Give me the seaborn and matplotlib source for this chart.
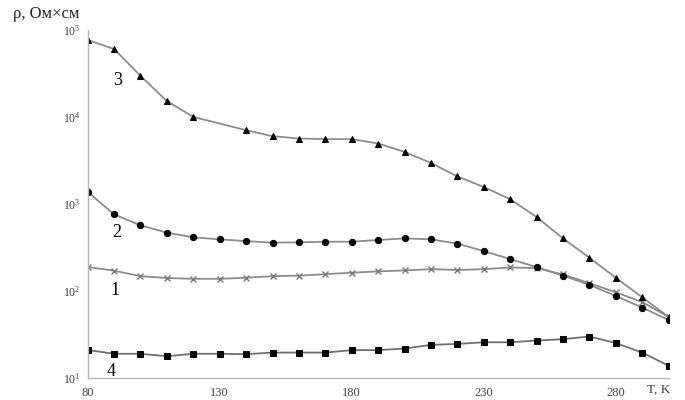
import numpy as np
import pandas as pd
import matplotlib
matplotlib.use("Agg")
import matplotlib.pyplot as plt
import seaborn as sns
from matplotlib.ticker import LogFormatterMathtext, FixedLocator, NullLocator

# temperature, K
T = [80, 90, 100, 110, 120, 130, 140, 150, 160, 170, 180, 190,
     200, 210, 220, 230, 240, 250, 260, 270, 280, 290, 300]
T3 = [80, 90, 100, 110, 120, 140, 150, 160, 170, 180, 190,
      200, 210, 220, 230, 240, 250, 260, 270, 280, 290, 300]

# resistivity, Ohm*cm
rho1 = [187, 170, 147, 140, 137, 137, 141, 147, 149, 155, 161, 167,
        171, 177, 173, 177, 185, 182, 154, 122, 96, 74, 50]
rho2 = [1368, 757, 565, 466, 411, 390, 372, 357, 360, 366, 366, 383,
        400, 390, 348, 286, 231, 187, 149, 117, 87, 64, 46]
rho3 = [76700, 60400, 29700, 15200, 10000, 7030, 6000, 5640, 5550, 5550, 4940,
        3960, 2950, 2070, 1560, 1130, 705, 400, 240, 141, 84, 50]
rho4 = [20.8, 18.8, 18.8, 17.6, 18.8, 18.8, 18.6, 19.4, 19.4, 19.4, 20.7, 20.7,
        21.6, 23.8, 24.4, 25.5, 25.5, 26.7, 27.7, 29.7, 25, 19.4, 13.7]

x_ticks = [80, 130, 180, 230, 280]
y_ticks = [1e1, 1e2, 1e3, 1e4, 1e5]

sns.set_style("white")
plt.rcParams["font.family"] = ["Liberation Serif", "DejaVu Serif"]
plt.rcParams["mathtext.fontset"] = "stix"

fig = plt.figure(figsize=(6.85, 4.0), dpi=100)
ax = fig.add_axes([0.128, 0.056, 0.848, 0.869])

line_col = "#8c8c8c"
sns.lineplot(x=T, y=rho1, ax=ax, color=line_col, lw=1.3, marker="x",
             markersize=4.5, markeredgecolor="#7a7a7a", markeredgewidth=1.0)
sns.lineplot(x=T, y=rho2, ax=ax, color=line_col, lw=1.3, marker="o",
             markersize=4.5, markerfacecolor="black", markeredgecolor="black")
sns.lineplot(x=T3, y=rho3, ax=ax, color=line_col, lw=1.3, marker="^",
             markersize=4.5, markerfacecolor="black", markeredgecolor="black")
sns.lineplot(x=T, y=rho4, ax=ax, color="#707070", lw=1.3, marker="s",
             markersize=4.5, markerfacecolor="black", markeredgecolor="black")

ax.set_yscale("log")
ax.set_xlim(80, 300)
ax.set_ylim(10, 1e5)
ax.yaxis.set_major_locator(FixedLocator(y_ticks))
ax.yaxis.set_minor_locator(NullLocator())
ax.yaxis.set_major_formatter(LogFormatterMathtext())
ax.set_xticks(x_ticks)

for s in ["top", "right"]:
    ax.spines[s].set_visible(False)
for s in ["left", "bottom"]:
    ax.spines[s].set_color("#b5b5b5")
    ax.spines[s].set_linewidth(1.0)
ax.tick_params(axis="both", colors="#b5b5b5", labelcolor="#404040",
               length=3, width=1.0, labelsize=9, direction="out")
ax.tick_params(axis="y", labelsize=8.5, pad=2)

# curve numbers
for lbl, tx, ty in [("3", 89.5, 2.6e4), ("2", 89.3, 470), ("1", 88.6, 100), ("4", 87.2, 11.6)]:
    ax.text(tx, ty, lbl, fontsize=13, ha="left", va="center", color="black")

fig.text(0.019, 0.965, "ρ, Ом×см", fontsize=12, ha="left", va="center")
fig.text(0.944, 0.025, "T, K", fontsize=9.5, ha="left", va="center", color="#404040")

fig.savefig("out.png", dpi=100)
